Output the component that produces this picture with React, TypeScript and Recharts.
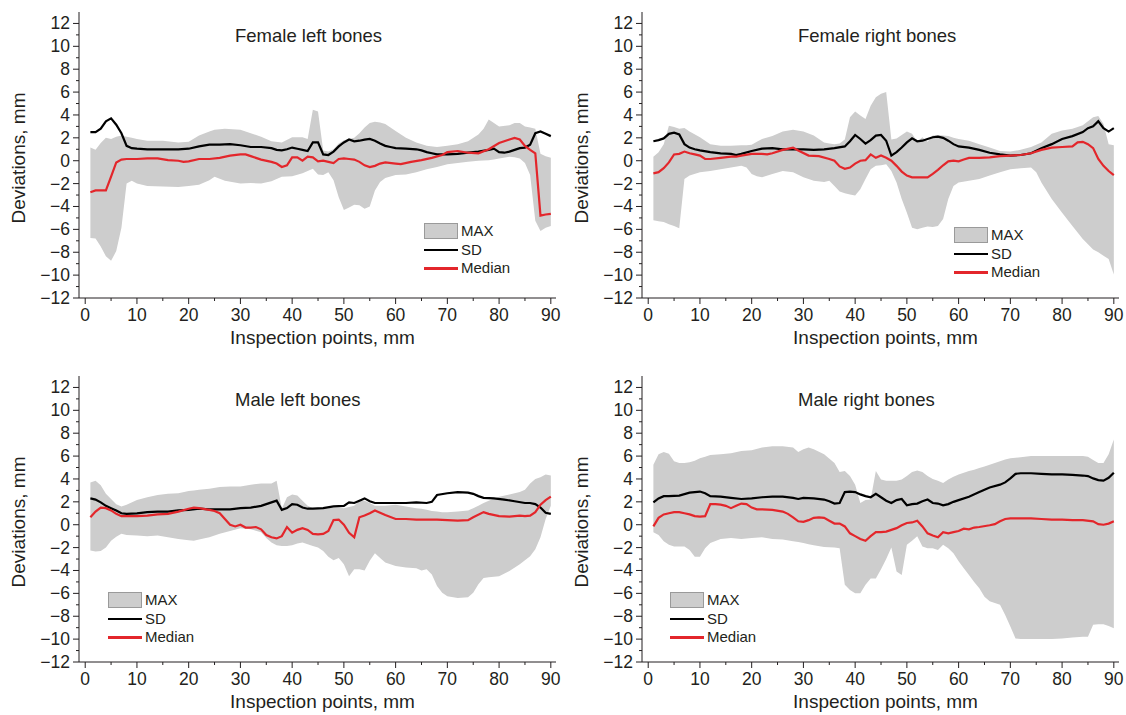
import React from "react";
import { ComposedChart, Area, Line, XAxis, YAxis, Legend } from "recharts";

type Pt = [number, number];
type Band = [number, number, number]; // x, min, max

const xTicks = [0, 5, 10, 15, 20, 25, 30, 35, 40, 45, 50, 55, 60, 65, 70, 75, 80, 85, 90];
const yTicks = [-12, -11, -10, -9, -8, -7, -6, -5, -4, -3, -2, -1, 0, 1, 2, 3, 4, 5, 6, 7, 8, 9, 10, 11, 12];
const legendOrder = ["MAX", "SD", "Median"];

// ---- Female left bones ----
const femaleLeftBand: Band[] = [
  [1, -6.75, 1.15], [2, -6.8, 0.95], [3, -7.5, 1.55], [4, -8.35, 2.0], [5, -8.75, 1.9], [6, -7.9, 2.1],
  [7, -5.85, 2.2], [8, -2.0, 2.1], [9, -1.75, 2.0], [10, -2.0, 1.9], [12, -2.2, 1.75], [15, -2.25, 1.75],
  [18, -2.3, 1.6], [20, -2.2, 1.65], [22, -2.1, 2.2], [24, -1.7, 2.55], [25, -1.4, 2.7], [27, -1.75, 2.8],
  [30, -2.0, 2.7], [32, -1.95, 2.4], [34, -2.0, 2.1], [36, -1.8, 1.7], [38, -1.4, 1.6], [40, -1.35, 2.05],
  [42, -1.1, 2.05], [43, -0.9, 1.9], [44, -0.7, 4.45], [45, -1.2, 4.3], [46, -1.25, 0.9], [47, -1.0, 0.8],
  [48, -1.7, 1.0], [49, -3.2, 1.5], [50, -4.3, 1.8], [51, -4.1, 1.9], [52, -3.85, 2.0], [53, -3.9, 2.4],
  [54, -4.2, 2.9], [55, -4.0, 3.3], [56, -2.6, 3.4], [57, -1.85, 3.35], [58, -1.5, 3.2], [60, -1.25, 2.6],
  [62, -1.2, 2.0], [64, -1.0, 1.6], [66, -0.75, 1.3], [68, -0.55, 1.2], [70, -0.3, 1.3], [72, -0.2, 1.45],
  [74, -0.1, 1.7], [76, 0, 2.3], [77, 0.02, 2.8], [78, 0.05, 3.6], [79, 0.1, 3.3], [80, 0.2, 3.0],
  [82, 0.35, 3.1], [83, 0.3, 3.3], [84, 0.2, 3.3], [85, -0.2, 3.0], [86, -1.25, 2.9], [87, -5.25, 2.8],
  [88, -6.15, 0.6], [89, -5.85, 0.4], [90, -5.7, 0.25],
];
const femaleLeftSd: Pt[] = [
  [1, 2.5], [2, 2.5], [3, 2.8], [4, 3.45], [5, 3.7], [6, 3.15], [7, 2.4], [8, 1.3], [9, 1.1], [10, 1.05],
  [12, 1.0], [14, 1.0], [16, 1.0], [18, 1.0], [20, 1.05], [22, 1.25], [24, 1.4], [26, 1.4], [28, 1.45],
  [30, 1.35], [32, 1.2], [34, 1.2], [36, 1.1], [37, 0.95], [38, 0.9], [39, 1.0], [40, 1.15], [41, 1.05],
  [42, 0.95], [43, 0.85], [44, 1.6], [45, 1.6], [46, 0.55], [47, 0.5], [48, 0.8], [49, 1.25], [50, 1.6],
  [51, 1.85], [52, 1.7], [53, 1.75], [54, 1.85], [55, 1.9], [56, 1.75], [57, 1.5], [58, 1.3], [59, 1.2],
  [60, 1.1], [62, 1.05], [64, 1.0], [65, 0.9], [66, 0.75], [67, 0.65], [68, 0.55], [70, 0.55], [72, 0.6],
  [74, 0.7], [76, 0.8], [78, 0.95], [79, 1.05], [80, 0.75], [81, 0.7], [82, 0.8], [83, 0.95], [84, 1.1],
  [85, 1.15], [86, 1.4], [87, 2.4], [88, 2.55], [89, 2.35], [90, 2.15],
];
const femaleLeftMedian: Pt[] = [
  [1, -2.75], [2, -2.6], [3, -2.6], [4, -2.6], [5, -1.4], [6, -0.15], [7, 0.1], [8, 0.15], [10, 0.15],
  [12, 0.2], [14, 0.2], [16, 0.05], [18, 0], [19, -0.1], [20, -0.05], [22, 0.15], [24, 0.15], [26, 0.25],
  [28, 0.45], [30, 0.55], [31, 0.55], [32, 0.4], [34, 0.1], [36, -0.1], [37, -0.25], [38, -0.55], [39, -0.4],
  [40, 0.3], [41, 0.3], [42, 0], [43, 0.35], [44, 0.3], [45, -0.05], [46, 0], [47, -0.1], [48, -0.2],
  [49, 0.15], [50, 0.2], [51, 0.15], [52, 0.1], [53, -0.1], [54, -0.4], [55, -0.55], [56, -0.45],
  [57, -0.25], [58, -0.15], [60, -0.25], [61, -0.3], [63, -0.1], [65, 0.05], [67, 0.25], [69, 0.5],
  [70, 0.75], [72, 0.85], [74, 0.7], [76, 0.65], [78, 1.0], [80, 1.55], [82, 1.85], [83, 2.0], [84, 1.85],
  [85, 1.3], [86, 0.95], [87, 0.65], [88, -4.8], [89, -4.7], [90, -4.65],
];

// ---- Female right bones ----
const femaleRightBand: Band[] = [
  [1, -5.2, 0.35], [2, -5.3, 0.75], [3, -5.35, 1.45], [4, -5.55, 3.05], [5, -5.7, 2.95], [6, -5.9, 2.8],
  [7, -1.6, 2.85], [8, -1.3, 2.55], [10, -1.0, 2.05], [12, -0.9, 1.45], [14, -0.75, 1.3], [16, -0.6, 1.3],
  [18, -0.45, 1.35], [19, -0.6, 1.35], [20, -1.15, 1.4], [21, -1.35, 1.65], [22, -1.45, 1.9], [24, -1.15, 2.15],
  [26, -0.9, 2.55], [28, -1.0, 2.7], [30, -1.45, 2.55], [32, -1.75, 2.2], [34, -1.85, 1.6], [35, -1.75, 1.5],
  [36, -2.2, 1.45], [37, -2.7, 1.5], [38, -2.85, 1.85], [39, -2.95, 3.8], [40, -3.05, 4.3], [41, -2.5, 3.95],
  [42, -1.6, 3.65], [43, -0.75, 4.8], [44, -0.45, 5.55], [45, -0.4, 5.85], [46, -0.3, 6.0], [47, -0.9, 1.85],
  [48, -1.9, 1.95], [49, -3.35, 2.25], [50, -4.55, 2.55], [51, -5.85, 2.35], [52, -6.0, 1.65], [53, -5.85, 2.05],
  [54, -5.75, 1.65], [55, -5.8, 2.2], [56, -5.7, 2.25], [57, -5.1, 2.2], [58, -3.35, 2.15], [59, -2.2, 2.0],
  [60, -1.9, 1.9], [62, -1.75, 1.75], [64, -1.6, 1.45], [66, -1.3, 1.15], [68, -1.0, 0.85], [70, -0.75, 0.8],
  [72, -0.65, 0.95], [74, -0.6, 1.2], [75, -1.0, 1.4], [76, -1.9, 1.6], [78, -3.35, 2.35], [80, -4.55, 2.65],
  [82, -5.7, 2.8], [84, -6.85, 3.1], [86, -7.75, 3.8], [87, -8.0, 3.9], [88, -8.3, 3.2], [89, -8.6, 1.45],
  [90, -9.95, 1.35],
];
const femaleRightSd: Pt[] = [
  [1, 1.7], [2, 1.8], [3, 1.95], [4, 2.35], [5, 2.45], [6, 2.3], [7, 1.45], [8, 1.15], [9, 1.0], [10, 0.9],
  [12, 0.75], [14, 0.65], [16, 0.6], [17, 0.5], [18, 0.6], [20, 0.85], [22, 1.05], [24, 1.1], [26, 1.0],
  [28, 1.0], [30, 1.0], [32, 0.95], [34, 1.0], [36, 1.1], [38, 1.25], [39, 1.7], [40, 2.25], [41, 1.9],
  [42, 1.5], [43, 1.8], [44, 2.2], [45, 2.25], [46, 1.75], [47, 0.45], [48, 0.75], [49, 1.15], [50, 1.6],
  [51, 1.95], [52, 1.7], [53, 1.75], [54, 1.9], [55, 2.05], [56, 2.1], [57, 2.0], [58, 1.75], [59, 1.45],
  [60, 1.25], [62, 1.15], [64, 0.95], [66, 0.7], [68, 0.55], [70, 0.45], [72, 0.5], [74, 0.65], [76, 1.1],
  [78, 1.45], [80, 1.9], [82, 2.15], [84, 2.5], [85, 2.85], [86, 3.0], [87, 3.45], [88, 2.85], [89, 2.55],
  [90, 2.85],
];
const femaleRightMedian: Pt[] = [
  [1, -1.1], [2, -1.0], [3, -0.65], [4, -0.15], [5, 0.55], [6, 0.6], [7, 0.8], [8, 0.65], [9, 0.55],
  [10, 0.45], [11, 0.15], [12, 0.15], [14, 0.25], [16, 0.35], [17, 0.35], [18, 0.45], [20, 0.6], [22, 0.6],
  [23, 0.55], [24, 0.65], [26, 0.95], [28, 1.15], [29, 0.9], [31, 0.45], [33, 0.4], [35, 0.15], [36, 0],
  [37, -0.5], [38, -0.7], [39, -0.6], [40, -0.25], [41, 0], [42, 0.05], [43, 0.55], [44, 0.25], [45, 0.45],
  [46, 0.25], [47, 0], [48, -0.45], [49, -0.95], [50, -1.3], [51, -1.45], [52, -1.45], [53, -1.45],
  [54, -1.45], [55, -1.15], [56, -0.8], [57, -0.4], [58, -0.05], [59, 0], [60, -0.05], [61, 0.1], [62, 0.25],
  [64, 0.25], [66, 0.3], [68, 0.4], [70, 0.45], [72, 0.5], [74, 0.65], [76, 0.95], [78, 1.15], [80, 1.2],
  [82, 1.25], [83, 1.6], [84, 1.65], [85, 1.45], [86, 1.1], [87, 0.15], [88, -0.45], [89, -0.9], [90, -1.25],
];

// ---- Male left bones ----
const maleLeftBand: Band[] = [
  [1, -2.25, 3.7], [2, -2.35, 3.85], [3, -2.3, 3.45], [4, -2.0, 2.7], [5, -1.4, 2.25], [6, -1.05, 1.8],
  [7, -0.8, 1.6], [8, -0.9, 1.75], [10, -0.95, 2.15], [12, -1.0, 2.4], [14, -0.95, 2.6], [16, -1.1, 2.7],
  [18, -1.25, 2.75], [20, -1.35, 2.95], [21, -1.4, 3.0], [22, -1.3, 3.05], [24, -1.1, 3.15], [26, -0.8, 3.3],
  [28, -0.55, 3.35], [30, -0.3, 3.35], [32, -0.4, 3.5], [34, -0.65, 3.6], [35, -1.15, 3.6], [36, -1.55, 3.6],
  [37, -1.8, 3.85], [38, -1.85, 1.4], [39, -1.85, 2.4], [40, -1.8, 2.65], [41, -1.65, 2.55], [42, -1.55, 2.1],
  [43, -1.7, 1.65], [44, -1.85, 1.45], [45, -2.0, 1.45], [46, -2.3, 1.45], [47, -2.8, 1.45], [48, -3.1, 1.5],
  [49, -2.9, 1.5], [50, -3.45, 1.45], [51, -4.5, 1.55], [52, -3.9, 1.65], [53, -3.9, 2.1], [54, -4.0, 2.1],
  [55, -3.15, 1.9], [56, -2.5, 1.65], [57, -2.9, 1.65], [58, -3.3, 1.65], [60, -3.6, 1.75], [62, -3.75, 1.6],
  [64, -3.8, 1.45], [65, -4.0, 1.4], [66, -3.9, 1.3], [67, -4.35, 1.2], [68, -5.35, 1.15], [69, -5.95, 1.1],
  [70, -6.25, 1.1], [72, -6.4, 1.15], [74, -6.35, 1.25], [75, -5.95, 1.45], [76, -5.2, 1.65], [77, -4.65, 1.9],
  [78, -4.6, 2.1], [80, -4.5, 2.45], [82, -4.05, 2.65], [84, -3.45, 2.85], [85, -3.1, 3.05], [86, -2.75, 3.6],
  [87, -2.15, 4.0], [88, -1.1, 4.15], [89, 0.5, 4.4], [90, 1.65, 4.3],
];
const maleLeftSd: Pt[] = [
  [1, 2.3], [2, 2.2], [3, 1.95], [4, 1.65], [5, 1.45], [6, 1.25], [7, 1.0], [8, 0.95], [10, 1.0], [12, 1.1],
  [14, 1.15], [16, 1.15], [18, 1.25], [20, 1.3], [22, 1.4], [24, 1.35], [26, 1.35], [28, 1.35], [30, 1.45],
  [32, 1.5], [34, 1.65], [36, 1.95], [37, 2.1], [38, 1.3], [39, 1.45], [40, 1.8], [41, 1.75], [42, 1.5],
  [43, 1.4], [44, 1.4], [46, 1.45], [48, 1.6], [50, 1.65], [51, 1.95], [52, 1.9], [53, 2.1], [54, 2.3],
  [55, 2.05], [56, 1.9], [58, 1.9], [60, 1.9], [62, 1.9], [64, 1.95], [66, 1.9], [67, 2.0], [68, 2.6],
  [70, 2.75], [72, 2.85], [74, 2.8], [75, 2.7], [76, 2.5], [77, 2.35], [79, 2.3], [81, 2.2], [83, 2.05],
  [85, 1.9], [86, 1.9], [87, 1.8], [88, 1.5], [89, 1.05], [90, 0.95],
];
const maleLeftMedian: Pt[] = [
  [1, 0.65], [2, 1.15], [3, 1.5], [4, 1.45], [5, 1.25], [6, 0.95], [7, 0.75], [8, 0.75], [10, 0.75],
  [12, 0.8], [14, 0.9], [16, 0.95], [18, 1.15], [20, 1.4], [21, 1.5], [22, 1.45], [24, 1.3], [25, 1.2],
  [26, 1.0], [27, 0.5], [28, 0], [29, -0.15], [30, 0], [31, -0.25], [32, -0.25], [33, -0.2], [34, -0.4],
  [35, -0.9], [36, -1.1], [37, -1.2], [38, -1.0], [39, -0.2], [40, -0.7], [41, -0.45], [42, -0.3],
  [43, -0.45], [44, -0.8], [45, -0.85], [46, -0.8], [47, -0.55], [48, 0.4], [49, 0.45], [50, 0],
  [51, -0.7], [52, -1.1], [53, 0.65], [54, 0.8], [55, 1.0], [56, 1.25], [57, 1.05], [58, 0.85], [60, 0.5],
  [62, 0.5], [64, 0.45], [66, 0.45], [68, 0.45], [70, 0.4], [72, 0.35], [74, 0.4], [75, 0.65], [77, 1.1],
  [78, 0.95], [80, 0.75], [82, 0.7], [84, 0.8], [85, 0.75], [86, 0.8], [87, 1.1], [88, 1.75], [89, 2.15],
  [90, 2.45],
];

// ---- Male right bones ----
const maleRightBand: Band[] = [
  [1, -0.65, 5.25], [2, -0.9, 6.15], [3, -1.45, 6.35], [4, -1.75, 6.2], [5, -1.9, 5.55], [6, -1.9, 5.4],
  [7, -1.9, 5.4], [8, -2.2, 5.45], [9, -2.8, 5.6], [10, -2.8, 5.8], [11, -2.05, 5.95], [12, -1.6, 6.1],
  [14, -1.25, 6.15], [16, -1.15, 6.25], [18, -1.25, 6.45], [20, -1.15, 6.5], [22, -1.1, 6.75], [24, -1.25, 6.85],
  [26, -1.3, 6.85], [28, -1.45, 6.75], [29, -1.5, 6.35], [30, -1.6, 6.6], [31, -1.7, 6.75], [32, -1.8, 6.6],
  [34, -1.95, 6.15], [36, -2.0, 5.4], [37, -2.05, 4.6], [38, -5.25, 4.7], [39, -5.7, 4.25], [40, -6.0, 3.5],
  [41, -6.0, 1.9], [42, -5.25, 2.15], [43, -4.7, 2.2], [44, -4.7, 4.7], [45, -3.9, 3.95], [46, -3.0, 3.85],
  [47, -2.0, 3.85], [48, -4.1, 3.85], [49, -4.4, 3.95], [50, -1.75, 4.25], [51, -1.4, 4.6], [52, -1.0, 4.75],
  [53, -1.9, 4.6], [54, -2.05, 4.25], [55, -2.05, 4.0], [56, -2.2, 3.85], [57, -1.75, 3.65], [58, -2.05, 3.95],
  [59, -2.5, 4.2], [60, -3.2, 4.4], [61, -3.8, 4.55], [62, -4.4, 4.7], [63, -5.0, 4.8], [64, -5.55, 4.95],
  [65, -6.3, 5.1], [66, -6.7, 5.25], [67, -6.85, 5.4], [68, -7.0, 5.55], [69, -7.9, 5.7], [70, -8.9, 5.8],
  [71, -9.95, 5.85], [72, -10.0, 5.9], [74, -10.0, 6.0], [76, -10.0, 6.0], [78, -10.0, 6.0], [80, -9.95, 6.0],
  [82, -9.85, 6.0], [84, -9.8, 6.0], [85, -9.8, 5.95], [86, -8.75, 5.65], [87, -8.7, 5.4], [88, -8.7, 5.4],
  [89, -8.85, 6.15], [90, -9.05, 7.45],
];
const maleRightSd: Pt[] = [
  [1, 1.95], [2, 2.3], [3, 2.5], [4, 2.5], [6, 2.55], [8, 2.8], [9, 2.85], [10, 2.9], [11, 2.75], [12, 2.5],
  [14, 2.45], [16, 2.35], [18, 2.25], [20, 2.3], [22, 2.4], [24, 2.45], [26, 2.45], [28, 2.35], [29, 2.25],
  [30, 2.35], [32, 2.3], [34, 2.2], [35, 2.05], [36, 1.85], [37, 1.9], [38, 2.85], [39, 2.9], [40, 2.85],
  [41, 2.65], [42, 2.5], [43, 2.4], [44, 2.7], [45, 2.4], [46, 2.1], [47, 1.9], [48, 2.15], [49, 2.25],
  [50, 1.7], [51, 1.8], [52, 1.85], [53, 2.05], [54, 2.2], [55, 1.9], [56, 1.85], [57, 1.7], [58, 1.8],
  [59, 2.0], [60, 2.15], [62, 2.45], [64, 2.85], [65, 3.05], [66, 3.25], [68, 3.5], [69, 3.7], [70, 4.05],
  [71, 4.45], [72, 4.5], [74, 4.5], [76, 4.45], [78, 4.4], [80, 4.4], [82, 4.35], [84, 4.3], [85, 4.25],
  [86, 4.05], [87, 3.9], [88, 3.85], [89, 4.1], [90, 4.55],
];
const maleRightMedian: Pt[] = [
  [1, -0.15], [2, 0.6], [3, 0.9], [4, 1.0], [5, 1.1], [6, 1.1], [7, 1.0], [8, 0.9], [9, 0.75], [10, 0.7],
  [11, 0.75], [12, 1.8], [13, 1.8], [14, 1.75], [15, 1.65], [16, 1.45], [17, 1.65], [18, 1.85], [19, 1.8],
  [20, 1.5], [21, 1.35], [22, 1.35], [24, 1.3], [26, 1.15], [27, 0.95], [28, 0.65], [29, 0.3], [30, 0.25],
  [31, 0.4], [32, 0.6], [33, 0.65], [34, 0.6], [35, 0.35], [36, 0.1], [37, 0.1], [38, -0.15], [39, -0.75],
  [40, -1.0], [41, -1.25], [42, -1.4], [43, -1.0], [44, -0.65], [45, -0.65], [46, -0.6], [47, -0.45],
  [48, -0.3], [49, -0.05], [50, 0.15], [51, 0.2], [52, 0.35], [53, -0.15], [54, -0.75], [55, -0.95],
  [56, -1.1], [57, -0.65], [58, -0.75], [59, -0.65], [60, -0.55], [61, -0.35], [62, -0.4], [63, -0.25],
  [64, -0.2], [66, -0.05], [67, 0.05], [68, 0.3], [69, 0.5], [70, 0.55], [72, 0.55], [74, 0.55], [76, 0.5],
  [78, 0.45], [80, 0.45], [82, 0.4], [84, 0.4], [86, 0.3], [87, 0.05], [88, 0], [89, 0.1], [90, 0.3],
];

const FONT = '"Liberation Sans", Arial, Helvetica, sans-serif';
const INK = "#231f20";
const BAND_FILL = "#cdcdcd";
const RED = "#e3262b";

const fmt = (v: number) => (v < 0 ? `\u2212${-v}` : `${v}`);

function renderXTick(props: any) {
  const { x, y, payload } = props;
  const major = payload.value % 10 === 0;
  return (
    <g>
      <line x1={x} x2={x} y1={y} y2={y + (major ? 6 : 3)} stroke={INK} />
      {major && (
        <text x={x} y={y + 23} textAnchor="middle" fontSize={17.5} fill={INK} fontFamily={FONT}>
          {payload.value}
        </text>
      )}
    </g>
  );
}

function renderYTick(props: any) {
  const { x, y, payload } = props;
  const major = payload.value % 2 === 0;
  return (
    <g>
      <line x1={x - (major ? 6 : 3)} x2={x} y1={y} y2={y} stroke={INK} />
      {major && (
        <text x={x - 9} y={y + 6} textAnchor="end" fontSize={17.5} fill={INK} fontFamily={FONT}>
          {fmt(payload.value)}
        </text>
      )}
    </g>
  );
}

function renderLegend(props: any) {
  const payload: any[] = [...(props.payload || [])].sort(
    (a, b) => legendOrder.indexOf(a.value) - legendOrder.indexOf(b.value)
  );
  return (
    <div style={{ fontFamily: FONT, fontSize: 15, color: INK }}>
      {payload.map((entry: any) => (
        <div key={entry.value} style={{ display: "flex", alignItems: "center", height: 18.5 }}>
          {entry.type === "rect" ? (
            <div style={{ width: 34, height: 16, background: BAND_FILL, border: "1px solid #9a9a9a", boxSizing: "border-box" }} />
          ) : (
            <div style={{ width: 34, height: 2.5, background: entry.color }} />
          )}
          <span style={{ marginLeft: 3, lineHeight: "18px" }}>{entry.value}</span>
        </div>
      ))}
    </div>
  );
}

interface PanelProps {
  title: string;
  band: Band[];
  sd: Pt[];
  median: Pt[];
  left: number;
  top: number;
  legendLeft: number;
  legendTop: number;
}

function Panel({ title, band, sd, median, left, top, legendLeft, legendTop }: PanelProps) {
  const bandData = band.map(([x, lo, hi]) => ({ x, range: [lo, hi] }));
  const sdData = sd.map(([x, y]) => ({ x, y }));
  const medianData = median.map(([x, y]) => ({ x, y }));
  const xDomain: [number, number] = [-1.2, 91];
  const yDomain: [number, number] = [-12, 13];

  return (
    <div style={{ position: "absolute", left, top, width: 563, height: 357 }}>
      <ComposedChart width={563} height={357} margin={{ top: 12, right: 7, bottom: 9, left: 0 }}>
        <XAxis
          type="number"
          dataKey="x"
          domain={xDomain}
          ticks={xTicks}
          interval={0}
          tick={renderXTick}
          tickLine={false}
          tickSize={0}
          tickMargin={0}
          height={50}
          axisLine={{ stroke: INK }}
          label={{
            value: "Inspection points, mm",
            position: "insideBottom",
            offset: 4,
            dx: 5,
            style: { fontSize: 19, fill: INK, fontFamily: FONT },
          }}
        />
        <XAxis xAxisId="top" orientation="top" type="number" domain={xDomain} tick={false} tickLine={false} height={0} axisLine={{ stroke: INK }} />
        <YAxis
          type="number"
          domain={yDomain}
          ticks={yTicks}
          interval={0}
          tick={renderYTick}
          tickLine={false}
          tickSize={0}
          tickMargin={0}
          width={79}
          axisLine={{ stroke: INK }}
          label={{
            value: "Deviations, mm",
            angle: -90,
            position: "insideLeft",
            offset: 18,
            dy: 3,
            style: { textAnchor: "middle", fontSize: 19, fill: INK, fontFamily: FONT },
          }}
        />
        <YAxis yAxisId="right" orientation="right" type="number" domain={yDomain} tick={false} tickLine={false} width={0} axisLine={{ stroke: INK }} />
        <Area
          data={bandData}
          dataKey="range"
          name="MAX"
          type="linear"
          stroke="none"
          fill={BAND_FILL}
          fillOpacity={1}
          legendType="rect"
          isAnimationActive={false}
        />
        <Line data={sdData} dataKey="y" name="SD" type="linear" stroke="#000" strokeWidth={2.2} dot={false} legendType="line" isAnimationActive={false} />
        <Line data={medianData} dataKey="y" name="Median" type="linear" stroke={RED} strokeWidth={2.2} dot={false} legendType="line" isAnimationActive={false} />
        <Legend
          layout="horizontal"
          verticalAlign="middle"
          align="center"
          content={renderLegend}
          wrapperStyle={{ left: legendLeft, top: legendTop, width: 120, height: "auto" }}
        />
      </ComposedChart>
      <div
        style={{
          position: "absolute",
          left: 235,
          top: 26,
          fontFamily: FONT,
          fontSize: 18.5,
          lineHeight: "20px",
          color: INK,
          whiteSpace: "nowrap",
        }}
      >
        {title}
      </div>
    </div>
  );
}

export default function App() {
  return (
    <div style={{ position: "absolute", left: 0, top: 0, width: 1126, height: 715, background: "#fff", overflow: "hidden" }}>
      <Panel title="Female left bones" band={femaleLeftBand} sd={femaleLeftSd} median={femaleLeftMedian} left={0} top={0} legendLeft={424} legendTop={222} />
      <Panel title="Female right bones" band={femaleRightBand} sd={femaleRightSd} median={femaleRightMedian} left={563} top={0} legendLeft={391} legendTop={226} />
      <Panel title="Male left bones" band={maleLeftBand} sd={maleLeftSd} median={maleLeftMedian} left={0} top={363.5} legendLeft={108} legendTop={227.5} />
      <Panel title="Male right bones" band={maleRightBand} sd={maleRightSd} median={maleRightMedian} left={563} top={363.5} legendLeft={107} legendTop={227.5} />
    </div>
  );
}
